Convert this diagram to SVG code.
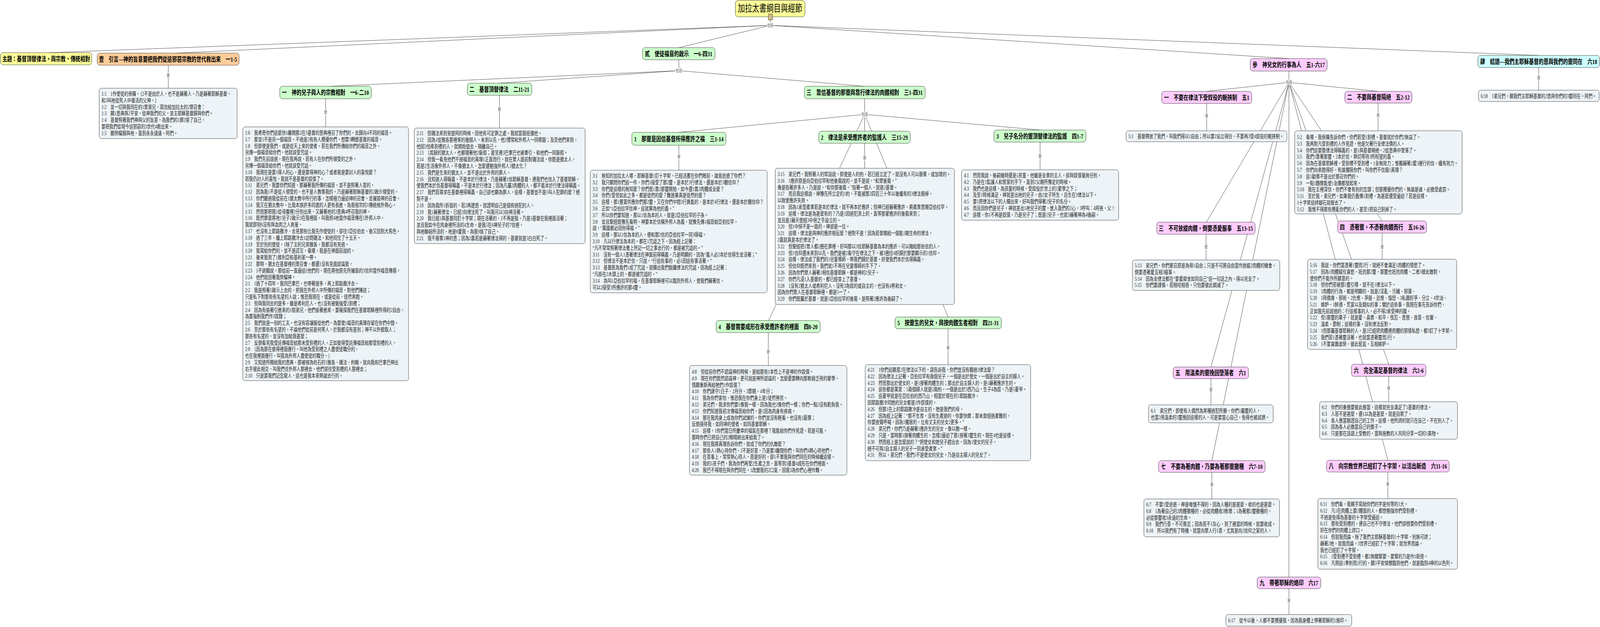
<svg xmlns="http://www.w3.org/2000/svg" width="5581" height="1606" viewBox="0 0 5581 1606" preserveAspectRatio="none">
<defs>
<style>
svg:root{width:100vw;height:100vh;display:block;overflow:hidden}
.ln{stroke:#333;stroke-width:1;fill:none}
.lb rect{fill:#fff}
.lb text{font-family:"Liberation Serif","Noto Sans CJK TC",serif;font-size:11px;fill:#555;text-anchor:middle;dominant-baseline:central}
.nd{stroke:#333;stroke-width:1}
.y{fill:#ffff99}.o{fill:#ffcc99}.g{fill:#ccffcc}.p{fill:#ffccff}.c{fill:#ccffff}
.bx{fill:#edf3f6;stroke:#333;stroke-width:1}
.tt{font-family:"Liberation Serif","Noto Sans CJK TC",serif;font-size:17px;font-weight:bold;text-anchor:middle;dominant-baseline:central;fill:#000}
.rt{font-family:"Liberation Serif","Noto Sans CJK TC",serif;font-size:25px;text-anchor:middle;dominant-baseline:central;fill:#000}
.tx{font-family:"Liberation Serif","Noto Sans CJK TC",serif;font-size:13.8px;fill:#222}
</style>
</defs>
<rect width="5581" height="1606" fill="#fff"/>
<g id="connectors">
<line class="ln" x1="2687" y1="43" x2="2687" y2="65"/>
<line class="ln" x1="2687" y1="65" x2="170" y2="135"/>
<line class="ln" x1="2687" y1="65" x2="616" y2="136"/>
<line class="ln" x1="2687" y1="65" x2="2368" y2="122"/>
<line class="ln" x1="2687" y1="65" x2="4496" y2="150"/>
<line class="ln" x1="2687" y1="65" x2="5368" y2="142"/>
<line class="ln" x1="587" y1="167" x2="587" y2="226"/>
<line class="ln" x1="2368" y1="153" x2="2368" y2="181"/>
<line class="ln" x1="2368" y1="181" x2="1152" y2="221"/>
<line class="ln" x1="2368" y1="181" x2="1743" y2="213"/>
<line class="ln" x1="2368" y1="181" x2="3016" y2="221"/>
<line class="ln" x1="1136" y1="253" x2="1136" y2="325"/>
<line class="ln" x1="1742" y1="244" x2="1742" y2="328"/>
<line class="ln" x1="3016" y1="253" x2="3016" y2="293"/>
<line class="ln" x1="3016" y1="293" x2="2368" y2="339"/>
<line class="ln" x1="3016" y1="293" x2="3016" y2="336"/>
<line class="ln" x1="3016" y1="293" x2="3628" y2="333"/>
<line class="ln" x1="3016" y1="293" x2="2681" y2="821"/>
<line class="ln" x1="3016" y1="293" x2="3307" y2="812"/>
<line class="ln" x1="2368" y1="372" x2="2368" y2="436"/>
<line class="ln" x1="3016" y1="367" x2="3016" y2="431"/>
<line class="ln" x1="3628" y1="364" x2="3628" y2="435"/>
<line class="ln" x1="2680" y1="852" x2="2680" y2="936"/>
<line class="ln" x1="3307" y1="842" x2="3307" y2="934"/>
<line class="ln" x1="4496" y1="182" x2="4496" y2="211"/>
<line class="ln" x1="4496" y1="211" x2="4209" y2="234"/>
<line class="ln" x1="4496" y1="211" x2="4807" y2="234"/>
<line class="ln" x1="4496" y1="211" x2="4208" y2="569"/>
<line class="ln" x1="4496" y1="211" x2="4821" y2="566"/>
<line class="ln" x1="4496" y1="211" x2="4224" y2="940"/>
<line class="ln" x1="4496" y1="211" x2="4844" y2="933"/>
<line class="ln" x1="4496" y1="211" x2="4227" y2="1180"/>
<line class="ln" x1="4496" y1="211" x2="4841" y2="1179"/>
<line class="ln" x1="4496" y1="211" x2="4496" y2="1478"/>
<line class="ln" x1="4209" y1="265" x2="4209" y2="335"/>
<line class="ln" x1="4807" y1="264" x2="4807" y2="335"/>
<line class="ln" x1="4207" y1="600" x2="4207" y2="666"/>
<line class="ln" x1="4821" y1="597" x2="4821" y2="664"/>
<line class="ln" x1="4224" y1="970" x2="4224" y2="1037"/>
<line class="ln" x1="4844" y1="964" x2="4844" y2="1029"/>
<line class="ln" x1="4227" y1="1210" x2="4227" y2="1278"/>
<line class="ln" x1="4841" y1="1209" x2="4841" y2="1277"/>
<line class="ln" x1="4496" y1="1508" x2="4496" y2="1574"/>
<line class="ln" x1="5367" y1="173" x2="5367" y2="231"/>
<g class="lb"><rect x="2675" y="58" width="24" height="14"/><text x="2687" y="65">包括</text></g>
<g class="lb"><rect x="2356" y="174" width="24" height="14"/><text x="2368" y="181">包括</text></g>
<g class="lb"><rect x="3004" y="286" width="24" height="14"/><text x="3016" y="293">包括</text></g>
<g class="lb"><rect x="4484" y="204" width="24" height="14"/><text x="4496" y="211">包括</text></g>
<g class="lb"><rect x="581" y="186" width="12" height="14"/><text x="587" y="193">是</text></g>
<g class="lb"><rect x="1130" y="280" width="12" height="14"/><text x="1136" y="287">是</text></g>
<g class="lb"><rect x="1736" y="273" width="12" height="14"/><text x="1742" y="280">是</text></g>
<g class="lb"><rect x="2362" y="394" width="12" height="14"/><text x="2368" y="401">是</text></g>
<g class="lb"><rect x="3010" y="397" width="12" height="14"/><text x="3016" y="404">是</text></g>
<g class="lb"><rect x="3622" y="393" width="12" height="14"/><text x="3628" y="400">是</text></g>
<g class="lb"><rect x="2674" y="894" width="12" height="14"/><text x="2680" y="901">是</text></g>
<g class="lb"><rect x="3301" y="884" width="12" height="14"/><text x="3307" y="891">是</text></g>
<g class="lb"><rect x="4203" y="290" width="12" height="14"/><text x="4209" y="297">是</text></g>
<g class="lb"><rect x="4801" y="288" width="12" height="14"/><text x="4807" y="295">是</text></g>
<g class="lb"><rect x="4201" y="625" width="12" height="14"/><text x="4207" y="632">是</text></g>
<g class="lb"><rect x="4815" y="625" width="12" height="14"/><text x="4821" y="632">是</text></g>
<g class="lb"><rect x="4218" y="991" width="12" height="14"/><text x="4224" y="998">是</text></g>
<g class="lb"><rect x="4838" y="987" width="12" height="14"/><text x="4844" y="994">是</text></g>
<g class="lb"><rect x="4221" y="1234" width="12" height="14"/><text x="4227" y="1241">是</text></g>
<g class="lb"><rect x="4835" y="1233" width="12" height="14"/><text x="4841" y="1240">是</text></g>
<g class="lb"><rect x="4490" y="1531" width="12" height="14"/><text x="4496" y="1538">是</text></g>
<g class="lb"><rect x="5361" y="192" width="12" height="14"/><text x="5367" y="199">是</text></g>
</g>

<g id="root">
<rect class="nd y" x="2565" y="1" width="243" height="42" rx="9"/>
<text class="rt" x="2686" y="21">加拉太書綱目與經節</text>
<rect x="2680" y="36" width="15" height="15" fill="#f2c35e" stroke="#333" stroke-width="1"/>
<rect x="2683" y="39" width="9" height="9" fill="#fff8d0" stroke="#555" stroke-width="0.8"/>
<line x1="2684.5" y1="41.5" x2="2690.5" y2="41.5" stroke="#555" stroke-width="0.8"/>
<line x1="2684.5" y1="43.5" x2="2690.5" y2="43.5" stroke="#555" stroke-width="0.8"/>
<line x1="2684.5" y1="45.5" x2="2690.5" y2="45.5" stroke="#555" stroke-width="0.8"/>
</g>

<g id="theme"><rect class="nd y" x="2" y="135" width="318" height="31" rx="8"/><text class="tt" x="161" y="151">主題：基督頂替律法，與宗教、傳統相對</text></g>

<g id="sec1"><rect class="nd o" x="339" y="136" width="495" height="31" rx="8"/><text class="tt" x="586" y="152">壹　引言—神的旨意要把我們從這邪惡宗教的世代救出來　一1-5</text></g>
<g id="sec1-box"><rect class="bx" x="346" y="226" width="481" height="129" rx="7"/>
<text class="tx" x="354" y="245"><tspan x="354" dy="0">1:1　1作使徒的保羅，（2不是由於人，也不是藉著人，乃是藉著耶穌基督，</tspan><tspan x="354" dy="16.8">和3叫祂從死人中復活的父神，）</tspan><tspan x="354" dy="16.8">1:2　並一切與我同在的1眾弟兄，寫信給加拉太的2眾召會：</tspan><tspan x="354" dy="16.8">1:3　願1恩典與2平安，從神我們的父，並主耶穌基督歸與你們。</tspan><tspan x="354" dy="16.8">1:4　基督照著我們神與父的旨意，為我們的1罪2捨了自己，</tspan><tspan x="354" dy="16.8">要把我們從現今這邪惡的3世代4救出來。</tspan><tspan x="354" dy="16.8">1:5　願榮耀歸與祂，直到永永遠遠。阿們。</tspan></text></g>

<g id="sec2"><rect class="nd g" x="2241" y="122" width="253" height="31" rx="8"/><text class="tt" x="2367" y="138">貳　使徒福音的啟示　一6-四31</text></g>

<g id="s2-1"><rect class="nd g" x="976" y="221" width="319" height="32" rx="8"/><text class="tt" x="1135" y="237">一　神的兒子與人的宗教相對　一6-二10</text></g>
<g id="s2-1-box"><rect class="bx" x="847" y="325" width="578" height="650" rx="7"/>
<text class="tx" x="855" y="345"><tspan x="855" dy="0">1:6　我希奇你們這麼快1離開那2在3基督的恩典裡召了你們的，去歸向4不同的福音。</tspan><tspan x="855" dy="16.8">1:7　那並1不是另一個福音，不過是2有些人攪擾你們，想要3轉變基督的福音。</tspan><tspan x="855" dy="16.8">1:8　但即使是我們，或是從天上來的使者，若在我們所傳給你們的福音之外，</tspan><tspan x="855" dy="16.8">另傳一個福音給你們，他就該受咒詛。</tspan><tspan x="855" dy="16.8">1:9　我們先前說過，現在我再說，若有人在你們所領受的之外，</tspan><tspan x="855" dy="16.8">另傳一個福音給你們，他就該受咒詛。</tspan><tspan x="855" dy="16.8">1:10　我現在是要1得人的心，還是要得神的心？或者我是要討人的喜悅麼？</tspan><tspan x="855" dy="16.8">若我仍討人的喜悅，我就不是基督的奴僕了。</tspan><tspan x="855" dy="16.8">1:11　弟兄們，我要你們知道，那藉著我所傳的福音，並不是照著人意的，</tspan><tspan x="855" dy="16.8">1:12　因為我1不是從人領受的，也不是人教導我的，乃是藉著耶穌基督的2啟示領受的。</tspan><tspan x="855" dy="16.8">1:13　你們聽過我從前在1猶太教中所行的事，怎樣極力逼迫神的召會，並摧毀神的召會。</tspan><tspan x="855" dy="16.8">1:14　我又在猶太教中，比我本族許多同歲的人更有長進，為我祖宗的1傳統格外熱心。</tspan><tspan x="855" dy="16.8">1:15　然而那把我1從母腹裡2分別出來，又藉著祂的3恩典4呼召我的神，</tspan><tspan x="855" dy="16.8">1:16　既然樂意將祂1兒子2啟示3在我裡面，叫我把4祂當作福音傳在5外邦人中，</tspan><tspan x="855" dy="16.8">我就即刻6沒有與血肉之人商量，</tspan><tspan x="855" dy="16.8">1:17　也沒有上耶路撒冷，去見那些比我先作使徒的，卻往1亞拉伯去，後又回到大馬色。</tspan><tspan x="855" dy="16.8">1:18　過了三年，纔上耶路撒冷去1訪問磯法，和他同住了十五天。</tspan><tspan x="855" dy="16.8">1:19　至於別的使徒，1除了主的兄弟雅各，我都沒有見過。</tspan><tspan x="855" dy="16.8">1:20　我寫給你們的，並不是謊言，看哪，我是在神面前說的。</tspan><tspan x="855" dy="16.8">1:21　後來我到了1敘利亞和基利家一帶。</tspan><tspan x="855" dy="16.8">1:22　那時，猶太在基督裡的眾召會，都還1沒有見面認識我，</tspan><tspan x="855" dy="16.8">1:23　1不過聽說，那從前一直逼迫2他們的，現在將他原先所摧毀的3信仰當作福音傳揚。</tspan><tspan x="855" dy="16.8">1:24　他們就因著我榮耀神。</tspan><tspan x="855" dy="16.8">2:1　1過了十四年，我同巴拿巴，也帶著提多，再上耶路撒冷去。</tspan><tspan x="855" dy="16.8">2:2　我是照著1啟示上去的，把我在外邦人中所傳的福音，對他們陳述；</tspan><tspan x="855" dy="16.8">只是私下對那些有名望的人說；惟恐我現在，或是從前，徒然奔跑。</tspan><tspan x="855" dy="16.8">2:3　但與我同去的提多，雖是希利尼人，也1沒有被勉強受2割禮；</tspan><tspan x="855" dy="16.8">2:4　因為有偷著引進來的1假弟兄，他們偷著進來，要窺探我們在基督耶穌裡所得的2自由，</tspan><tspan x="855" dy="16.8">為要強制我們作3奴隸；</tspan><tspan x="855" dy="16.8">2:5　我們就是一刻的工夫，也沒有容讓服從他們，為要使1福音的真理存留在你們中間。</tspan><tspan x="855" dy="16.8">2:6　至於那些有名望的，不論他們從前是何等人，於我都沒有差別；神不以外貌取人；</tspan><tspan x="855" dy="16.8">那些有名望的，並沒有加給我甚麼；</tspan><tspan x="855" dy="16.8">2:7　反倒看見我受託傳福音給那未受割禮的人，正如彼得受託傳福音給那受割禮的人，</tspan><tspan x="855" dy="16.8">2:8　（因為那在彼得裡面運行，叫他為受割禮之人盡使徒職分的，</tspan><tspan x="855" dy="16.8">也在我裡面運行，叫我為外邦人盡使徒的職分，）</tspan><tspan x="855" dy="16.8">2:9　又知道所賜給我的恩典，那被視為柱石的1雅各、磯法、約翰，就向我和巴拿巴伸出</tspan><tspan x="855" dy="16.8">右手彼此相交，叫我們往外邦人那裡去，他們卻往受割禮的人那裡去；</tspan><tspan x="855" dy="16.8">2:10　只是要我們記念窮人，這也是我本來熱誠去行的。</tspan></text></g>

<g id="s2-2"><rect class="nd g" x="1630" y="213" width="225" height="31" rx="8"/><text class="tt" x="1742" y="229">二　基督頂替律法　二11-21</text></g>
<g id="s2-2-box"><rect class="bx" x="1445" y="328" width="596" height="296" rx="7"/>
<text class="tx" x="1453" y="346"><tspan x="1453" dy="0">2:11　但磯法來到安提阿的時候，因他有可定罪之處，我就當面抵擋他。</tspan><tspan x="1453" dy="16.8">2:12　因為1從雅各那裡來的幾個人，未到以先，他2慣常和外邦人一同喫飯；及至他們來到，</tspan><tspan x="1453" dy="16.8">他因3怕奉割禮的人，就開始退去，隔離自己。</tspan><tspan x="1453" dy="16.8">2:13　1其餘的猶太人，也都隨著他2裝假；甚至連3巴拿巴也被牽引，和他們一同裝假。</tspan><tspan x="1453" dy="16.8">2:14　但我一看見他們不按福音的真理1正直而行，就在眾人面前對磯法說，你既是猶太人，</tspan><tspan x="1453" dy="16.8">若是2生活像外邦人，不像猶太人，怎麼還勉強外邦人3猶太化？</tspan><tspan x="1453" dy="16.8">2:15　我們是生來的猶太人，並不是出於外邦的罪人，</tspan><tspan x="1453" dy="16.8">2:16　且知道人得稱義，不是本於行律法，乃是藉著1信耶穌基督，連我們也信入了基督耶穌，</tspan><tspan x="1453" dy="16.8">使我們本於信基督得稱義，不是本於行律法；因為凡屬2肉體的人，都不能本於行律法得稱義。</tspan><tspan x="1453" dy="16.8">2:17　我們若尋求在基督裡得稱義，自己卻也顯為罪人，這樣，基督豈不是1叫人犯罪的麼？絕</tspan><tspan x="1453" dy="16.8">對不是。</tspan><tspan x="1453" dy="16.8">2:18　因為我所1拆毀的，若2再建造，就證明自己是個有過犯的人。</tspan><tspan x="1453" dy="16.8">2:19　我1藉著律法，已經2向律法死了，叫我可以3向神活著。</tspan><tspan x="1453" dy="16.8">2:20　我已經1與基督同釘十字架；現在活著的，2不再是我，乃是3基督在我裡面活著；</tspan><tspan x="1453" dy="16.8">並且我如今在肉身裡所活的4生命，是我5在6神兒子的7信裡，</tspan><tspan x="1453" dy="16.8">與祂聯結所活的，祂是8愛我，為我9捨了自己。</tspan><tspan x="1453" dy="16.8">2:21　我不廢棄1神的恩；因為2義若是藉著律法得的，基督就是3白白死了。</tspan></text></g>

<g id="s2-3"><rect class="nd g" x="2806" y="221" width="421" height="32" rx="8"/><text class="tt" x="3016" y="237">三　靠信基督的那靈與靠行律法的肉體相對　三1-四31</text></g>

<g id="s2-3-1"><rect class="nd g" x="2204" y="339" width="328" height="33" rx="8"/><text class="tt" x="2368" y="356">1　那靈是因信基督所得應許之福　三1-14</text></g>
<g id="s2-3-1-box"><rect class="bx" x="2059" y="436" width="617" height="314" rx="7"/>
<text class="tx" x="2067" y="455"><tspan x="2067" dy="0">3:1　無知的加拉太人哪，耶穌基督1釘十字架，已經活畫在你們眼前，誰竟迷惑了你們？</tspan><tspan x="2067" dy="16.8">3:2　我只願問你們這一件，你們1接受了那2靈，是本於3行律法，還是本於3聽信仰？</tspan><tspan x="2067" dy="16.8">3:3　你們是這樣的無知麼？你們既1靠2那靈開始，如今還1靠2肉體成全麼？</tspan><tspan x="2067" dy="16.8">3:4　你們1受苦如此之多，都是徒然的麼？難道果真是徒然的麼？</tspan><tspan x="2067" dy="16.8">3:5　這樣，那1豐富供應你們那2靈，又在你們中間3行異能的，是本於4行律法，還是本於聽信仰？</tspan><tspan x="2067" dy="16.8">3:6　正如“1亞伯拉罕信神，這就算為他的義。”</tspan><tspan x="2067" dy="16.8">3:7　所以你們要知道，那以1信為本的人，就是2亞伯拉罕的子孫。</tspan><tspan x="2067" dy="16.8">3:8　並且聖經既豫先看明，神要本於信稱外邦人為義，就豫先傳1福音給亞伯拉罕，</tspan><tspan x="2067" dy="16.8">說，“萬國都必因你得福。”</tspan><tspan x="2067" dy="16.8">3:9　這樣，那以1信為本的人，便和那2信的亞伯拉罕一同3得福。</tspan><tspan x="2067" dy="16.8">3:10　凡以行律法為本的，都在1咒詛之下，因為經上記著：</tspan><tspan x="2067" dy="16.8">“凡不常常照著律法書上所記一切之事去行的，都是被咒詛的。”</tspan><tspan x="2067" dy="16.8">3:11　沒有一個人1憑著律法在神面前得稱義，乃是明顯的，因為“義人必2本於信得生並活著；”</tspan><tspan x="2067" dy="16.8">3:12　但律法不是本於信，只說，“行這些事的，必1因這些事活著。”</tspan><tspan x="2067" dy="16.8">3:13　基督既為我們1成了咒詛，就贖出我們脫離律法的咒詛，因為經上記著：</tspan><tspan x="2067" dy="16.8">“凡掛在2木頭上的，都是被咒詛的，”</tspan><tspan x="2067" dy="16.8">3:14　為叫1亞伯拉罕的福，在基督耶穌裡可以臨到外邦人，使我們藉著信，</tspan><tspan x="2067" dy="16.8">可以2接受3所應許的那4靈。</tspan></text></g>

<g id="s2-3-2"><rect class="nd g" x="2856" y="336" width="319" height="31" rx="8"/><text class="tt" x="3015" y="352">2　律法是承受應許者的監護人　三15-29</text></g>
<g id="s2-3-2-box"><rect class="bx" x="2704" y="431" width="625" height="349" rx="7"/>
<text class="tx" x="2712" y="451"><tspan x="2712" dy="0">3:15　弟兄們，我照著人的常話說，即使是人的約，若已經立定了，就沒有人可以廢棄，或加增的。</tspan><tspan x="2712" dy="16.8">3:16　1應許原是向亞伯拉罕和他後裔說的。並不是說，“和眾後裔，”</tspan><tspan x="2712" dy="16.8">像是指著許多人，乃是說，“和你那後裔，”指著一個人，就是2基督。</tspan><tspan x="2712" dy="16.8">3:17　而且我這樣說，神豫先所立定的1約，不能被那2四百三十年以後纔有的3律法廢掉，</tspan><tspan x="2712" dy="16.8">以致使應許失效。</tspan><tspan x="2712" dy="16.8">3:18　因為1承受產業若是本於律法，就不再本於應許；但神已經藉著應許，將產業恩賜亞伯拉罕。</tspan><tspan x="2712" dy="16.8">3:19　這樣，律法是為甚麼有的？乃是1因過犯添上的，直等那蒙應許的後裔來到；</tspan><tspan x="2712" dy="16.8">並且是2藉天使經3中保之手設立的。</tspan><tspan x="2712" dy="16.8">3:20　但1中保不是一面的，神卻是一位。</tspan><tspan x="2712" dy="16.8">3:21　這樣，律法是與神的應許相反麼？絕對不是！因為若曾賜給一個能1賜生命的律法，</tspan><tspan x="2712" dy="16.8">2義就真是本於律法了。</tspan><tspan x="2712" dy="16.8">3:22　但聖經把1眾人都2圈在罪裡，好叫那以3信耶穌基督為本的應許，可以賜給那些信的人。</tspan><tspan x="2712" dy="16.8">3:23　但1信仰還未來到以先，我們是被2看守在律法之下，被3圈住4好歸於那要顯示的1信仰。</tspan><tspan x="2712" dy="16.8">3:24　這樣，律法成了我們的1兒童導師，帶我們歸於基督，好使我們本於信得稱義。</tspan><tspan x="2712" dy="16.8">3:25　但信仰既然來到，我們就1不再在兒童導師的手下了，</tspan><tspan x="2712" dy="16.8">3:26　因為你們眾人藉著1相信基督耶穌，都是神的2兒子。</tspan><tspan x="2712" dy="16.8">3:27　你們凡浸1入基督的，都已經穿上了基督。</tspan><tspan x="2712" dy="16.8">3:28　1沒有2猶太人或希利尼人，沒有3為奴的或自主的，也沒有4男和女，</tspan><tspan x="2712" dy="16.8">因為你們眾人在基督耶穌裡，都是5一了。</tspan><tspan x="2712" dy="16.8">3:29　你們既屬於基督，就是1亞伯拉罕的後裔，是照著2應許為後嗣了。</tspan></text></g>

<g id="s2-3-3"><rect class="nd g" x="3467" y="333" width="321" height="31" rx="8"/><text class="tt" x="3627" y="349">3　兒子名分的靈頂替律法的監護　四1-7</text></g>
<g id="s2-3-3-box"><rect class="bx" x="3354" y="435" width="548" height="129" rx="7"/>
<text class="tx" x="3362" y="454"><tspan x="3362" dy="0">4:1　然而我說，後嗣幾時還是1孩童，他雖是全業的主人，卻與奴僕毫無分別，</tspan><tspan x="3362" dy="16.8">4:2　乃是在1監護人和管家的手下，直到2父親所豫定的時候。</tspan><tspan x="3362" dy="16.8">4:3　我們也是這樣，為孩童的時候，受奴役於世上的1蒙學之下；</tspan><tspan x="3362" dy="16.8">4:4　及至1時候滿足，神就差出祂的兒子，由2女子所生，且生在3律法以下，</tspan><tspan x="3362" dy="16.8">4:5　要1把律法以下的人贖出來，好叫我們得著2兒子的名分。</tspan><tspan x="3362" dy="16.8">4:6　而且因你們是兒子，神就差出1祂兒子的靈，進入我們的2心，3呼叫：4阿爸，父！</tspan><tspan x="3362" dy="16.8">4:7　這樣，你1不再是奴僕，乃是兒子了；既是2兒子，也就3藉著神為4後嗣。</tspan></text></g>

<g id="s2-3-4"><rect class="nd g" x="2498" y="821" width="363" height="31" rx="8"/><text class="tt" x="2679" y="837">4　基督需要成形在承受應許者的裡面　四8-20</text></g>
<g id="s2-3-4-box"><rect class="bx" x="2405" y="936" width="549" height="281" rx="7"/>
<text class="tx" x="2413" y="957"><tspan x="2413" dy="0">4:8　但從前你們不認識神的時候，是給那些1本性上不是神的作奴僕。</tspan><tspan x="2413" dy="16.8">4:9　現在你們既然認識神，更可說是神所認識的，怎麼還要轉向那軟弱乏用的蒙學，</tspan><tspan x="2413" dy="16.8">情願重新再給牠們1作奴僕？</tspan><tspan x="2413" dy="16.8">4:10　你們謹守1日子、2月分、3節期、4年分；</tspan><tspan x="2413" dy="16.8">4:11　我為你們害怕，惟恐我在你們身上是1徒然勞苦。</tspan><tspan x="2413" dy="16.8">4:12　弟兄們，我求你們要1像我一樣，因為我也2像你們一樣；你們一點3沒有虧負我。</tspan><tspan x="2413" dy="16.8">4:13　你們知道我初次傳福音給你們，是1因為肉身有疾病。</tspan><tspan x="2413" dy="16.8">4:14　那在我肉身上成為你們試煉的，你們並沒有輕看，也沒有1厭棄；</tspan><tspan x="2413" dy="16.8">反倒接待我，如同神的使者，如同基督耶穌。</tspan><tspan x="2413" dy="16.8">4:15　這樣，1你們當日所慶幸的福氣在那裡？我能給你們作見證，若是可能，</tspan><tspan x="2413" dy="16.8">那時你們已把自己的2眼睛剜出來給我了。</tspan><tspan x="2413" dy="16.8">4:16　現在我將真理告訴你們，就成了你們的仇敵麼？</tspan><tspan x="2413" dy="16.8">4:17　那些人1熱心待你們，2不是好意，乃是要3離間你們，叫你們4熱心待他們。</tspan><tspan x="2413" dy="16.8">4:18　在善事上，常常熱心待人，原是好的，卻1不單我與你們同在的時候纔這樣。</tspan><tspan x="2413" dy="16.8">4:19　我的1孩子們，我為你們再受2生產之苦，直等到3基督4成形在你們裡面。</tspan><tspan x="2413" dy="16.8">4:20　我巴不得現在與你們同在，1改變我的2口氣，因我3為你們心裡作難。</tspan></text></g>

<g id="s2-3-5"><rect class="nd g" x="3122" y="812" width="371" height="30" rx="8"/><text class="tt" x="3307" y="827">5　按靈生的兒女，與按肉體生者相對　四21-31</text></g>
<g id="s2-3-5-box"><rect class="bx" x="3018" y="934" width="577" height="246" rx="7"/>
<text class="tx" x="3026" y="952"><tspan x="3026" dy="0">4:21　1你們這願意2在律法以下的，請告訴我，你們豈沒有聽過3律法麼？</tspan><tspan x="3026" dy="16.8">4:22　因為律法上記著，亞伯拉罕有兩個兒子，一個是出於使女，一個是出於自主的婦人。</tspan><tspan x="3026" dy="16.8">4:23　然而那出於使女的，是1按著肉體生的；那出於自主婦人的，是1藉著應許生的。</tspan><tspan x="3026" dy="16.8">4:24　這些都是寓意：1兩個婦人就是2兩約，一個是出於3西乃山，生子4為奴，乃是5夏甲。</tspan><tspan x="3026" dy="16.8">4:25　這夏甲就是在亞拉伯的西乃山，相當於現在的1耶路撒冷，</tspan><tspan x="3026" dy="16.8">因耶路撒冷同她的兒女都是2作奴僕的。</tspan><tspan x="3026" dy="16.8">4:26　但那1在上的耶路撒冷是自主的，她是我們的母，</tspan><tspan x="3026" dy="16.8">4:27　因為經上記著：“那不生育，沒有生產過的，你要快樂；那未曾經過產難的，</tspan><tspan x="3026" dy="16.8">你要放聲呼喊，因為1獨居的，比有丈夫的兒女2更多。”</tspan><tspan x="3026" dy="16.8">4:28　弟兄們，你們乃是藉著1應許生的兒女，像以撒一樣。</tspan><tspan x="3026" dy="16.8">4:29　只是，當時那1按著肉體生的，怎樣2逼迫了那1按著3靈生的，現在4也是這樣。</tspan><tspan x="3026" dy="16.8">4:30　然而經上是怎麼說的？“把使女和她兒子趕出去，因為1使女的兒子，</tspan><tspan x="3026" dy="16.8">絕不可與2自主婦人的兒子一同承受產業。”</tspan><tspan x="3026" dy="16.8">4:31　所以，弟兄們，我們1不是使女的兒女，乃是自主婦人的兒女了。</tspan></text></g>

<g id="sec3"><rect class="nd p" x="4361" y="150" width="268" height="32" rx="8"/><text class="tt" x="4495" y="166">參　神兒女的行事為人　五1-六17</text></g>

<g id="s3-1"><rect class="nd p" x="4052" y="234" width="314" height="31" rx="8"/><text class="tt" x="4209" y="250">一　不要在律法下受奴役的軛挾制　五1</text></g>
<g id="s3-1-box"><rect class="bx" x="3928" y="335" width="561" height="28" rx="7"/>
<text class="tx" x="3936" y="354">5:1　基督釋放了我們，叫我們得以1自由；所以要2站立得住，不要再3受4奴役的軛挾制。</text></g>

<g id="s3-2"><rect class="nd p" x="4691" y="234" width="234" height="30" rx="8"/><text class="tt" x="4808" y="249">二　不要與基督隔絕　五2-12</text></g>
<g id="s3-2-box"><rect class="bx" x="4516" y="335" width="584" height="213" rx="7"/>
<text class="tx" x="4524" y="356"><tspan x="4524" dy="0">5:2　看哪，我保羅告訴你們，你們若受1割禮，基督就於你們2無益了。</tspan><tspan x="4524" dy="16.8">5:3　我再對凡受割禮的人作見證，他是欠著行全律法債的人。</tspan><tspan x="4524" dy="16.8">5:4　你們這要靠律法得稱義的，是1與基督隔絕，2從恩典中墜落了。</tspan><tspan x="4524" dy="16.8">5:5　我們1靠著那靈，2本於信，熱切等待3所盼望的義。</tspan><tspan x="4524" dy="16.8">5:6　因為在基督耶穌裡，受割禮不受割禮，1全無效力；惟獨藉著2愛3運行的信，纔有效力。</tspan><tspan x="4524" dy="16.8">5:7　你們向來跑得好，有誰攔阻你們，叫你們不信服1真理？</tspan><tspan x="4524" dy="16.8">5:8　這1勸導不是出於那召你們的。</tspan><tspan x="4524" dy="16.8">5:9　一點1麵酵能使1全團都發起來。</tspan><tspan x="4524" dy="16.8">5:10　我在主裡深信，你們不會有別的念頭；但那攪擾你們的，無論是誰，必擔受處罰。</tspan><tspan x="4524" dy="16.8">5:11　至於我，弟兄們，如果我仍舊傳1割禮，為甚麼還受逼迫？若是這樣，</tspan><tspan x="4524" dy="16.8">1十字架這絆腳石就廢去了。</tspan><tspan x="4524" dy="16.8">5:12　我恨不得那些攪亂你們的人，甚至1把自己割掉了。</tspan></text></g>

<g id="s3-3"><rect class="nd p" x="4035" y="569" width="343" height="31" rx="8"/><text class="tt" x="4206" y="585">三　不可放縱肉體，倒要憑愛服事　五13-15</text></g>
<g id="s3-3-box"><rect class="bx" x="3950" y="666" width="514" height="78" rx="7"/>
<text class="tx" x="3958" y="685"><tspan x="3958" dy="0">5:13　弟兄們，你們蒙召原是為得1自由；只是不可將自由當作放縱2肉體的機會，</tspan><tspan x="3958" dy="16.8">倒要憑著愛互相3服事。</tspan><tspan x="3958" dy="16.8">5:14　因為全律法都在“要愛鄰舍如同自己”這一句話之內，得以完全了。</tspan><tspan x="3958" dy="16.8">5:15　你們要謹慎，若相咬相吞，只怕要彼此銷滅了。</tspan></text></g>

<g id="s3-4"><rect class="nd p" x="4666" y="566" width="310" height="31" rx="8"/><text class="tt" x="4821" y="582">四　憑著靈，不憑著肉體而行　五16-26</text></g>
<g id="s3-4-box"><rect class="bx" x="4561" y="664" width="520" height="231" rx="7"/>
<text class="tx" x="4569" y="684"><tspan x="4569" dy="0">5:16　我說，你們當憑著1靈而2行，就絕不會滿足1肉體的情慾了。</tspan><tspan x="4569" dy="16.8">5:17　因為1肉體縱任貪慾，抵抗那2靈，那靈也抵抗肉體，二者3彼此敵對，</tspan><tspan x="4569" dy="16.8">使你們不能作所願意的。</tspan><tspan x="4569" dy="16.8">5:18　但你們若被那1靈引導，就不在1律法以下。</tspan><tspan x="4569" dy="16.8">5:19　1肉體的行為，都是明顯的，就是2淫亂、污穢、邪蕩、</tspan><tspan x="4569" dy="16.8">5:20　1拜偶像、邪術、2仇恨、爭競、忌恨、惱怒、3私圖好爭、分立、4宗派、</tspan><tspan x="4569" dy="16.8">5:21　嫉妒、1醉酒、荒宴以及類似的事；關於這些事，我現在事先告訴你們，</tspan><tspan x="4569" dy="16.8">正如我先前說過的：行這樣事的人，必不得2承受神的國。</tspan><tspan x="4569" dy="16.8">5:22　但1那靈的果子，就是愛、喜樂、和平、恆忍、恩慈、良善、信實、</tspan><tspan x="4569" dy="16.8">5:23　溫柔、節制；這樣的事，沒有律法反對。</tspan><tspan x="4569" dy="16.8">5:24　1但那屬基督耶穌的人，是2已經把肉體連肉體的邪情私慾，都3釘了十字架。</tspan><tspan x="4569" dy="16.8">5:25　我們若1憑著靈活著，也就當憑著靈而2行。</tspan><tspan x="4569" dy="16.8">5:26　1不要貪圖虛榮，彼此惹氣，互相嫉妒。</tspan></text></g>

<g id="s3-5"><rect class="nd p" x="4092" y="940" width="263" height="30" rx="8"/><text class="tt" x="4223" y="955">五　用溫柔的靈挽回墮落者　六1</text></g>
<g id="s3-5-box"><rect class="bx" x="4006" y="1037" width="435" height="46" rx="7"/>
<text class="tx" x="4014" y="1057"><tspan x="4014" dy="0">6:1　弟兄們，即使有人偶然為某種過犯所勝，你們1屬靈的人，</tspan><tspan x="4014" dy="16.8">也當2用溫柔的3靈挽回這樣的人，可是要當心自己，免得也被試誘。</tspan></text></g>

<g id="s3-6"><rect class="nd p" x="4714" y="933" width="260" height="31" rx="8"/><text class="tt" x="4844" y="949">六　完全滿足基督的律法　六2-6</text></g>
<g id="s3-6-box"><rect class="bx" x="4603" y="1029" width="481" height="96" rx="7"/>
<text class="tx" x="4611" y="1048"><tspan x="4611" dy="0">6:2　你們的重擔要彼此擔當，這樣就完全滿足了1基督的律法。</tspan><tspan x="4611" dy="16.8">6:3　人若不是甚麼，還1以為是甚麼，就是自欺了。</tspan><tspan x="4611" dy="16.8">6:4　各人應當驗證自己的工作，這樣，他所誇的就只在自己，不在別人了，</tspan><tspan x="4611" dy="16.8">6:5　因為各人必擔當自己的擔子。</tspan><tspan x="4611" dy="16.8">6:6　只是那在話語上受教的，當與施教的人共同分享一切的1美物。</tspan></text></g>

<g id="s3-7"><rect class="nd p" x="4041" y="1180" width="372" height="30" rx="8"/><text class="tt" x="4227" y="1195">七　不要為著肉體，乃要為著那靈撒種　六7-10</text></g>
<g id="s3-7-box"><rect class="bx" x="3990" y="1278" width="473" height="97" rx="7"/>
<text class="tx" x="3998" y="1297"><tspan x="3998" dy="0">6:7　不要1受迷惑，神是嗤慢不得的，因為人種的是甚麼，收的也是甚麼。</tspan><tspan x="3998" dy="16.8">6:8　1為著自己的2肉體撒種的，必從肉體收3敗壞；1為著那2靈撒種的，</tspan><tspan x="3998" dy="16.8">必從那靈收3永遠的生命。</tspan><tspan x="3998" dy="16.8">6:9　我們行善，不可喪志；因為若不1灰心，到了適當的時候，就要收成。</tspan><tspan x="3998" dy="16.8">6:10　所以我們有了時機，就當向眾人行1善，尤其是向2信仰之家的人。</tspan></text></g>

<g id="s3-8"><rect class="nd p" x="4627" y="1179" width="428" height="30" rx="8"/><text class="tt" x="4841" y="1194">八　向宗教世界已經釘了十字架，以活出新造　六11-16</text></g>
<g id="s3-8-box"><rect class="bx" x="4597" y="1277" width="487" height="181" rx="7"/>
<text class="tx" x="4605" y="1296"><tspan x="4605" dy="0">6:11　你們看，我親手寫給你們的字是何等的1大。</tspan><tspan x="4605" dy="16.8">6:12　凡1在肉體上要2體面的人，都想勉強你們受割禮，</tspan><tspan x="4605" dy="16.8">不過是免得為基督的十字架受逼迫。</tspan><tspan x="4605" dy="16.8">6:13　那些受割禮的，連自己也不守律法，他們卻想要你們受割禮，</tspan><tspan x="4605" dy="16.8">好在你們的肉體上誇口。</tspan><tspan x="4605" dy="16.8">6:14　但就我而論，除了我們主耶穌基督的1十字架，別無可誇；</tspan><tspan x="4605" dy="16.8">藉著2祂，就我而論，3世界已經釘了十字架；就世界而論，</tspan><tspan x="4605" dy="16.8">我也已經釘了十字架。</tspan><tspan x="4605" dy="16.8">6:15　1受割禮不受割禮，都2無關緊要，要緊的乃是作1新造。</tspan><tspan x="4605" dy="16.8">6:16　凡照這1準則而2行的，願3平安憐憫臨到他們，就是臨到4神的以色列。</tspan></text></g>

<g id="s3-9"><rect class="nd p" x="4385" y="1478" width="222" height="30" rx="8"/><text class="tt" x="4496" y="1493">九　帶著耶穌的烙印　六17</text></g>
<g id="s3-9-box"><rect class="bx" x="4276" y="1574" width="439" height="30" rx="7"/>
<text class="tx" x="4284" y="1594">6:17　從今以後，人都不要攪擾我，因為我身體上帶著耶穌的1烙印。</text></g>

<g id="sec4"><rect class="nd c" x="5155" y="142" width="424" height="31" rx="8"/><text class="tt" x="5367" y="158">肆　結語—我們主耶穌基督的恩與我們的靈同在　六18</text></g>
<g id="sec4-box"><rect class="bx" x="5157" y="231" width="421" height="29" rx="7"/>
<text class="tx" x="5165" y="251">6:18　1弟兄們，願我們主耶穌基督的2恩與你們的3靈同在。阿們。</text></g>
</svg>
